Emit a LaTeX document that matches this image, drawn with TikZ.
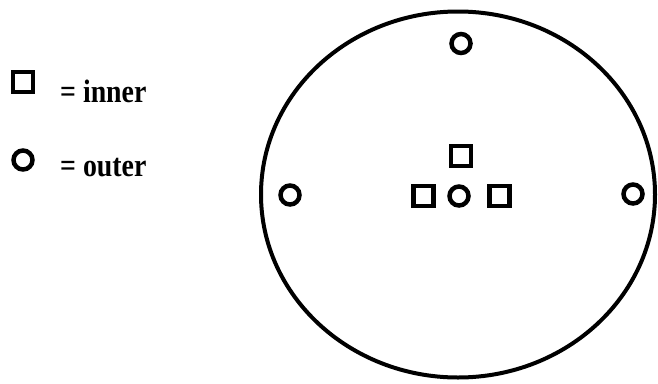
\documentclass[tikz,border=0pt]{standalone}
\usepackage{fontspec}
\setmainfont{Liberation Serif}

\begin{document}
\begin{tikzpicture}[x=1pt, y=-1pt,
  sq/.style={draw, line width=4.5pt, minimum size=20pt, inner sep=0pt},
  rnd/.style={draw, circle, line width=4.5pt, minimum size=19pt, inner sep=0pt},
  lbl/.style={anchor=base west, inner sep=0pt, font=\fontsize{29}{32}\selectfont\bfseries}]

\useasboundingbox (0,0) rectangle (658,383);

% Legend
\node[sq] (keyA) at (23, 82) {};
\node[lbl] (keyAtext) at (60, 102) {\scalebox{0.96}[1.12]{= inner}};
\node[rnd] (keyB) at (23, 160) {};
\node[lbl] (keyBtext) at (60, 176) {\scalebox{0.96}[1.12]{= outer}};

% Boundary
\draw[line width=4pt] (458, 194.5) ellipse [x radius=197, y radius=183];

% Outer points
\node[rnd] (oT) at (461, 43.5) {};
\node[rnd] (oL) at (290, 195) {};
\node[rnd] (oR) at (633, 194) {};
\node[rnd] (oC) at (459, 196) {};

% Inner points
\node[sq] (iT) at (461, 156) {};
\node[sq] (iL) at (423.5, 196) {};
\node[sq] (iR) at (499.5, 196) {};

\end{tikzpicture}
\end{document}
